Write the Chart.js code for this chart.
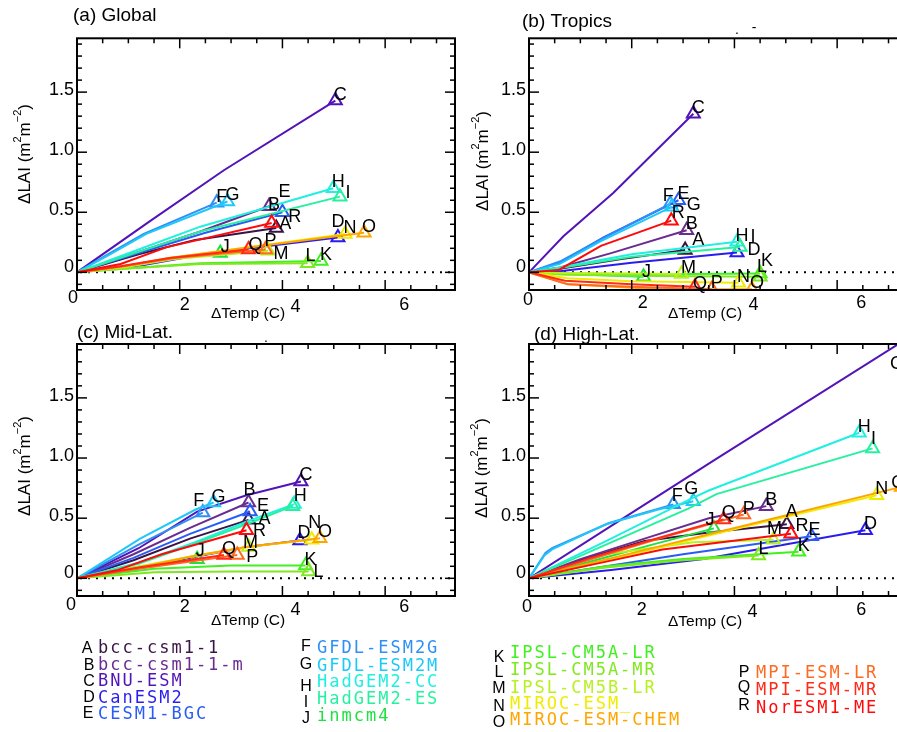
<!DOCTYPE html>
<html><head><meta charset="utf-8">
<script src="https://cdn.jsdelivr.net/npm/chart.js@4"></script>
<style>
html,body{margin:0;padding:0;background:#fff;width:897px;height:732px;overflow:hidden;position:relative;}
canvas{position:absolute;left:0;top:0;}
.nm{position:absolute;font-family:"DejaVu Sans Mono",monospace;font-size:17px;letter-spacing:2px;white-space:nowrap;line-height:1;transform:translateY(-50%);}
.lt{position:absolute;font-family:"Liberation Sans",Arial,sans-serif;font-size:16px;color:#000;line-height:1;transform:translate(-50%,-50%);}
</style></head><body>
<script>
// ---------- data ----------
const letters = ['A','B','C','D','E','F','G','H','I','J','K','L','M','N','O','P','Q','R'];
const models = ['bcc-csm1-1','bcc-csm1-1-m','BNU-ESM','CanESM2','CESM1-BGC','GFDL-ESM2G','GFDL-ESM2M','HadGEM2-CC','HadGEM2-ES','inmcm4','IPSL-CM5A-LR','IPSL-CM5A-MR','IPSL-CM5B-LR','MIROC-ESM_','MIROC-ESM-CHEM','MPI-ESM-LR','MPI-ESM-MR','NorESM1-ME'];
const xTickValues = [0,2,4,6];
const xTickLabels = ['0','2','4','6'];
const yTickValues = [0,0.5,1.0,1.5];
const yTickLabels = ['0','0.5','1.0','1.5'];

// (a) Global: ΔTemp and ΔLAI per model
const globalX = [
 [0,1.2,2.3,3.88],[0,1.2,2.4,3.74],[0,1.4,2.86,5.03],[0,1.3,2.6,5.08],[0,1.2,2.5,4.0],
 [0,0.6,1.3,2.72],[0,0.6,1.35,2.93],[0,1.2,2.4,4.99],[0,1.2,2.4,5.12],[0,0.85,1.8,2.79],
 [0,0.9,2.4,4.75],[0,0.9,2.4,4.49],[0,0.9,1.9,3.72],[0,0.9,1.8,3.2,5.22],[0,0.9,1.8,3.4,5.59],
 [0,0.9,1.9,3.67],[0,0.85,1.8,3.34],[0,0.85,1.75,3.79]];
const globalY = [
 [0,0.15,0.27,0.37],[0,0.17,0.34,0.55],[0,0.42,0.85,1.43],[0,0.06,0.16,0.29],[0,0.16,0.33,0.50],
 [0,0.15,0.32,0.58],[0,0.14,0.32,0.59],[0,0.19,0.38,0.70],[0,0.17,0.34,0.63],[0,0.04,0.11,0.16],
 [0,0.03,0.075,0.094],[0,0.03,0.07,0.075],[0,0.04,0.11,0.18],[0,0.05,0.12,0.2,0.32],[0,0.05,0.12,0.21,0.33],
 [0,0.05,0.12,0.19],[0,0.05,0.12,0.19],[0,0.07,0.21,0.41]];

// (b) Tropics
const tropicsX = [
 [0,0.6,1.8,3.04],[0,0.6,1.6,3.07],[0,0.67,1.64,3.2],[0,0.6,2.0,4.05],[0,0.6,1.45,2.91],
 [0,0.6,1.43,2.75],[0,0.6,1.4,2.78],[0,0.6,2.0,4.05],[0,0.6,2.0,4.11],[0,0.6,1.4,2.23],
 [0,0.7,2.5,4.5],[0,0.7,2.5,4.5],[0,0.7,2.0,2.97],[0,0.75,2.0,4.08],[0,0.78,2.5,4.34],
 [0,0.75,2.0,3.56],[0,0.7,2.0,3.23],[0,0.58,1.4,2.77]];
const tropicsY = [
 [0,0.03,0.11,0.185],[0,0.04,0.16,0.35],[0,0.3,0.66,1.32],[0,0.01,0.08,0.166],[0,0.08,0.29,0.6],
 [0,0.09,0.28,0.57],[0,0.07,0.26,0.545],[0,0.04,0.15,0.255],[0,0.035,0.13,0.21],[0,-0.01,-0.025,-0.036],
 [0,-0.01,-0.015,-0.01],[0,-0.02,-0.03,-0.036],[0,-0.005,-0.01,-0.014],[0,-0.05,-0.075,-0.086],[0,-0.1,-0.14,-0.14],
 [0,-0.1,-0.12,-0.14],[0,-0.07,-0.1,-0.12],[0,0.02,0.22,0.43]];

// (c) Mid-Lat.
const midX = [
 [0,1.1,2.2,3.34],[0,1.1,2.2,3.34],[0,1.2,2.34,3.3,4.36],[0,1.1,2.2,3.3,4.34],[0,1.1,2.2,3.37],
 [0,1.2,2.45],[0,1.23,2.3,2.66],[0,1.2,2.3,3.3,4.23],[0,1.2,2.3,3.3,4.2],[0,1.1,2.34],
 [0,1.5,3.0,4.45],[0,1.5,3.0,4.51],[0,1.1,2.2,3.34],[0,1.1,2.2,3.3,4.57],[0,1.1,2.2,3.3,4.73],
 [0,1.2,3.12],[0,1.2,2.86],[0,0.8,1.65,3.3]];
const midY = [
 [0,0.15,0.33,0.486],[0,0.2,0.42,0.63],[0,0.25,0.555,0.69,0.805],[0,0.08,0.17,0.26,0.314],[0,0.17,0.37,0.556],
 [0,0.28,0.547],[0,0.33,0.57,0.63],[0,0.13,0.3,0.47,0.617],[0,0.12,0.29,0.45,0.6],[0,0.09,0.158],
 [0,0.08,0.106,0.106],[0,0.05,0.056,0.056],[0,0.09,0.18,0.26],[0,0.08,0.18,0.26,0.32],[0,0.08,0.18,0.26,0.333],
 [0,0.08,0.194],[0,0.09,0.194],[0,0.07,0.2,0.40]];

// (d) High-Lat.
const highX = [
 [0,1.0,2.25,3.5,5.02],[0,1.0,2.25,3.5,4.62],[0,1.8,3.6,7.35],[0,1.6,3.4,6.55],[0,1.5,3.0,5.5],
 [0,0.32,0.45,1.56,2.81],[0,0.3,0.45,1.5,2.5,3.2],[0,1.5,3.1,3.5,6.43],[0,1.5,3.1,3.65,6.69],[0,1.2,2.4,3.6],
 [0,1.5,3.0,5.25],[0,1.5,3.0,4.47],[0,1.5,3.2,4.76],[0,2.2,4.5,6.77],[0,2.2,4.5,7.25],
 [0,1.3,2.6,4.18],[0,1.2,2.4,3.79],[0,1.3,2.6,5.1]];
const highY = [
 [0,0.15,0.31,0.38,0.45],[0,0.16,0.33,0.5,0.6],[0,0.49,0.98,1.99],[0,0.07,0.16,0.40],[0,0.1,0.2,0.35],
 [0,0.21,0.25,0.46,0.615],[0,0.19,0.24,0.45,0.57,0.64],[0,0.31,0.65,0.73,1.21],[0,0.28,0.58,0.7,1.08],[0,0.14,0.28,0.415],
 [0,0.1,0.16,0.22],[0,0.09,0.15,0.19],[0,0.2,0.3,0.32],[0,0.22,0.46,0.69],[0,0.23,0.47,0.76],
 [0,0.17,0.34,0.53],[0,0.17,0.32,0.49],[0,0.12,0.24,0.37]];

// ---------- style / layout ----------
const colors = ['#3b1446','#6a2c91','#5214b8','#2a1cf0','#2a5cf5','#2f8ff5','#1ec8f8','#20f0e0','#28f0a0','#20e040',
                '#40f020','#80e820','#b8f020','#f0ec00','#ffa500','#ff6a20','#ff2a18','#ff0a0a'];
const X_MAX = 7.36, Y_MIN = -0.147, Y_MAX = 1.948;
const CW = 920, CH = 732;
const FONT = '"Liberation Sans", Arial, sans-serif';

const panels = [
 {title:'(a) Global', xs:globalX, ys:globalY, area:[77,38.3,455,290], tpos:[73,16], xt:[248,314], yt:[25,154],
  xlab:[[-4,8],[5,15],[13,17],[19,15]],
  nudge:{B:[5,-1],E:[2,-20],R:[23,-6],A:[9,-4],D:[0,-15],Q:[7,-4],P:[5,-8],M:[13,3],L:[3,-7],I:[8,-4]},
  extra:[]},
 {title:'(b) Tropics', xs:tropicsX, ys:tropicsY, area:[529,38.3,907,290], tpos:[522,22], xt:[705,314], yt:[483,161],
  xlab:[[-1,10],[11,13],[19,15],[24,13]],
  nudge:{F:[-2,-8],G:[22,-2],R:[7,-8],A:[13,-10],I:[13,-10],D:[17,-2],J:[3,-5],M:[7,-6],K:[7,-13],L:[2,-10],Q:[5,-3]},
  extra:[['.',737,30],['-',754,28]]},
 {title:'(c) Mid-Lat.', xs:midX, ys:midY, area:[77,344,455,596], tpos:[77,333], xt:[248,621], yt:[25,466],
  xlab:[[-6,9],[5,11],[13,14],[19,11]],
  nudge:{B:[1,-13],F:[-4,-11],E:[13,-5],A:[16,-1],H:[6,-8],R:[13,1],D:[4,-8],N:[3,-17],M:[2,-4],J:[3,-8],P:[15,2],L:[10,0],I:null},
  extra:[['.',266,338]]},
 {title:'(d) High-Lat.', xs:highX, ys:highY, area:[529,344,907,596], tpos:[534,335], xt:[705,622], yt:[482,468],
  xlab:[[-2,11],[10,14],[18,16],[24,14]],
  nudge:{C:[-10,25],O:[-3,-4],I:[1,-9],A:[5,-12],R:[11,-8],E:[3,-6],M:[1,-11],J:[-4,-8],F:[4,-8],G:[-2,-12]},
  extra:[]}
];

function line(ctx,x1,y1,x2,y2){ctx.beginPath();ctx.moveTo(x1,y1);ctx.lineTo(x2,y2);ctx.stroke();}

function drawYTitle(ctx,cx,cy){
  ctx.save(); ctx.translate(cx,cy); ctx.rotate(-Math.PI/2);
  const parts=[['\u0394LAI (m',0],['2',1],['m',0],['\u22122',1],[')',0]];
  const big='17px '+FONT, small='11px '+FONT;
  let tot=0; parts.forEach(p=>{ctx.font=p[1]?small:big; tot+=ctx.measureText(p[0]).width;});
  let x=-tot/2; ctx.textBaseline='middle'; ctx.textAlign='left'; ctx.fillStyle='#000';
  parts.forEach(p=>{ctx.font=p[1]?small:big; ctx.fillText(p[0],x,p[1]?-7:0); x+=ctx.measureText(p[0]).width;});
  ctx.restore();
}

const decor = {
  id:'decor',
  beforeDatasetsDraw(chart){
    const {ctx, chartArea:a, scales:{x,y}} = chart;
    const py = y.getPixelForValue(0);
    ctx.save(); ctx.strokeStyle='#000'; ctx.lineWidth=2; ctx.setLineDash([2,6]);
    line(ctx,a.left+3,py,a.right,py); ctx.restore();
  },
  afterDatasetsDraw(chart){
    const P = chart.options.plugins.decor.panel;
    const {ctx, chartArea:a, scales:{x,y}} = chart;
    ctx.save();
    ctx.strokeStyle='#000'; ctx.lineWidth=2;
    ctx.strokeRect(a.left,a.top,a.right-a.left,a.bottom-a.top);
    ctx.lineWidth=1.5;
    for(let k=0;k*0.5<=X_MAX;k++){
      const v=k*0.5, px=x.getPixelForValue(v), len=(k%4===0)?10:5;
      line(ctx,px,a.bottom,px,a.bottom-len); line(ctx,px,a.top,px,a.top+len);
    }
    for(let k=-1;k/10<=Y_MAX;k++){
      const v=k/10, pv=y.getPixelForValue(v), len=(k%5===0)?10:5;
      line(ctx,a.left,pv,a.left+len,pv); line(ctx,a.right,pv,a.right-len,pv);
    }
    ctx.fillStyle='#000'; ctx.font='18px '+FONT;
    ctx.textAlign='right'; ctx.textBaseline='middle';
    yTickValues.forEach((v,k)=>{ ctx.fillText(yTickLabels[k], a.left-3, y.getPixelForValue(v)-(v===0?5:2)); });
    ctx.textAlign='center';
    xTickValues.forEach((v,k)=>{ const n=P.xlab[k]; ctx.fillText(xTickLabels[k], x.getPixelForValue(v)+n[0], a.bottom+n[1]); });
    ctx.font='19px '+FONT; ctx.textAlign='left';
    ctx.fillText(P.title, P.tpos[0], P.tpos[1]);
    ctx.font='15.5px '+FONT; ctx.textAlign='center';
    ctx.fillText('\u0394Temp (C)', P.xt[0], P.xt[1]);
    drawYTitle(ctx,P.yt[0],P.yt[1]);
    ctx.font='14px '+FONT;
    P.extra.forEach(e=>ctx.fillText(e[0],e[1],e[2]));
    // end-point letters
    ctx.font='18px '+FONT; ctx.textAlign='center'; ctx.textBaseline='middle';
    chart.data.datasets.forEach((ds,i)=>{
      const L=letters[i];
      const nd = (L in P.nudge) ? P.nudge[L] : [5,-6];
      if(nd===null) return;
      const meta=chart.getDatasetMeta(i); const el=meta.data[meta.data.length-1];
      ctx.fillText(L, el.x+nd[0], el.y+nd[1]);
    });
    ctx.restore();
  }
};

panels.forEach(P=>{
  const cv=document.createElement('canvas'); cv.width=CW; cv.height=CH;
  cv.style.width=CW+'px'; cv.style.height=CH+'px';
  document.body.appendChild(cv);
  const datasets = letters.map((L,i)=>{
    const n=P.xs[i].length;
    return {
      label: models[i],
      data: P.xs[i].map((xv,j)=>({x:xv,y:P.ys[i][j]})),
      showLine:true, borderColor:colors[i], backgroundColor:'rgba(0,0,0,0)',
      borderWidth:2, pointStyle:'triangle',
      pointRadius: c => (c.dataIndex===n-1 ? 7.5 : 0),
      pointBorderWidth:2, pointBorderColor:colors[i], pointBackgroundColor:'rgba(0,0,0,0)',
      pointHoverRadius:0, order: letters.length-1-i, clip:0, tension:0
    };
  });
  new Chart(cv,{
    type:'scatter',
    data:{datasets},
    options:{
      responsive:false, animation:false, events:[], devicePixelRatio:1,
      layout:{padding:{left:P.area[0], top:P.area[1], right:CW-P.area[2], bottom:CH-P.area[3]}},
      scales:{
        x:{type:'linear', min:0, max:X_MAX, display:false},
        y:{type:'linear', min:Y_MIN, max:Y_MAX, display:false}
      },
      plugins:{legend:{display:false}, tooltip:{enabled:false}, decor:{panel:P}}
    },
    plugins:[decor]
  });
});

// ---------- legend (HTML text) ----------
const legendLetterPos = [[87,648],[89,665],[89,681],[89,697],[88,713],[306,646],[306,664],[306,686],[306,702],[306,718],
                         [499,657],[499,672],[499,688],[499,706],[499,722],[744,672],[744,687],[744,705]];
const legendNamePos = [[98,647],[98,664],[98,680],[98,697],[98,713],[317,647],[317,665],[317,681],[317,698],[317,715],
                       [510,652],[510,669],[510,687],[510,703],[510,719],[756,672],[756,689],[756,707]];
letters.forEach((L,i)=>{
  const a=document.createElement('div'); a.className='lt'; a.textContent=L;
  a.style.left=legendLetterPos[i][0]+'px'; a.style.top=legendLetterPos[i][1]+'px'; document.body.appendChild(a);
  const b=document.createElement('div'); b.className='nm'; b.textContent=models[i]; b.style.color=colors[i];
  b.style.left=legendNamePos[i][0]+'px'; b.style.top=legendNamePos[i][1]+'px'; document.body.appendChild(b);
});
</script>
</body></html>
